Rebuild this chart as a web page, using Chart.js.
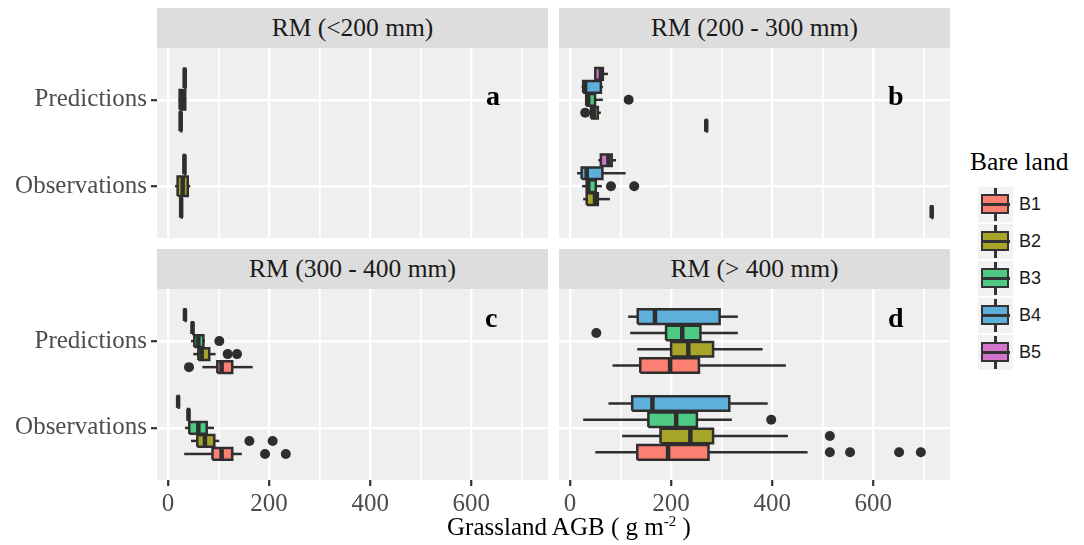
<!DOCTYPE html>
<html><head><meta charset="utf-8">
<script src="https://cdn.jsdelivr.net/npm/chart.js@4"></script>
<style>
body{margin:0;background:#fff;width:1084px;height:545px;position:relative;overflow:hidden;font-family:'Liberation Serif','Times New Roman',serif;}
canvas{position:absolute;}
.strip{position:absolute;background:#DEDDDD;color:#1A1A1A;font-size:25.5px;text-align:center;height:40px;line-height:40px;width:391px;}
.tag{position:absolute;font-weight:bold;font-size:28px;color:#000;}
.axtitle{position:absolute;font-size:25px;color:#000;white-space:nowrap;}
.legtitle{position:absolute;left:970px;top:147px;font-size:25.5px;color:#000;}
.key{position:absolute;left:978px;width:35px;height:35px;background:#F2F2F2;}
.key .wh{position:absolute;left:16px;width:2.5px;background:#333;}
.key .bx{position:absolute;left:3px;top:7px;width:24px;height:16px;border:2.5px solid #333;}
.key .md{position:absolute;left:3px;top:16px;width:29px;height:3px;background:#333;}
.klab{position:absolute;left:1019px;font-family:'Liberation Sans',Arial,sans-serif;font-size:18px;color:#1A1A1A;}
</style></head>
<body>
<canvas id="cA" width="548" height="190" style="left:0;top:48px"></canvas>
<canvas id="cB" width="391" height="190" style="left:559px;top:48px"></canvas>
<canvas id="cC" width="548" height="231" style="left:0;top:289px"></canvas>
<canvas id="cD" width="391" height="231" style="left:559px;top:289px"></canvas>
<div id="deco"></div>
<script>
// ---------- data ----------
const categories = ['Observations', 'Predictions'];
const groups = ['B1', 'B2', 'B3', 'B4', 'B5'];
const groupColors = ['#FB8072', '#A6A52A', '#4FCA84', '#5EAFDB', '#D375CB'];
const panelTitles = ['RM (<200 mm)', 'RM (200 - 300 mm)', 'RM (300 - 400 mm)', 'RM (> 400 mm)'];
const panelTags = ['a', 'b', 'c', 'd'];
const xTickLabels = [0, 200, 400, 600];
const xGridValues = [0, 100, 200, 300, 400, 500, 600, 700];

// groups present in each panel
const groupsA = ['B1', 'B2', 'B3'];
const groupsB = ['B1', 'B2', 'B3', 'B4', 'B5'];
const groupsC = ['B1', 'B2', 'B3', 'B4', 'B5'];
const groupsD = ['B1', 'B2', 'B3', 'B4'];

// box statistics: [category, group, lower whisker, Q1, median, Q3, upper whisker]
const statsA = [
  ['Observations', 'B1', 24.5, 25, 26, 27, 27.5],
  ['Observations', 'B2', 14, 19, 29, 39, 44],
  ['Observations', 'B3', 31, 31.5, 32.5, 33.5, 34],
  ['Predictions', 'B1', 23.5, 24, 25, 26, 26.5],
  ['Predictions', 'B2', 21, 23, 29, 34, 36],
  ['Predictions', 'B3', 31.5, 32, 33, 34, 34.5]
];
const statsB = [
  ['Observations', 'B1', 713.5, 714.5, 715.5, 716.5, 717.5],
  ['Observations', 'B2', 26, 33, 49.5, 55, 79],
  ['Observations', 'B3', 24, 33, 36, 51, 63],
  ['Observations', 'B4', 14, 23, 33, 64, 110],
  ['Observations', 'B5', 56, 61, 76, 82.5, 91],
  ['Predictions', 'B1', 268, 268.5, 269.5, 270.5, 271],
  ['Predictions', 'B2', 40, 41.5, 47, 55, 61],
  ['Predictions', 'B3', 30, 32, 36, 49.5, 65],
  ['Predictions', 'B4', 23, 26, 30, 61, 65],
  ['Predictions', 'B5', 48, 50, 61, 65, 75]
];
const statsC = [
  ['Observations', 'B1', 32, 88, 106, 127, 146],
  ['Observations', 'B2', 45.5, 58, 73, 91.5, 101.5],
  ['Observations', 'B3', 33.5, 42, 60, 76.5, 91],
  ['Observations', 'B4', 38.5, 39.5, 40.5, 41.5, 42.5],
  ['Observations', 'B5', 18, 19, 20, 21, 22],
  ['Predictions', 'B1', 68, 97.5, 106, 127, 167.5],
  ['Predictions', 'B2', 50, 60, 66.5, 81.5, 94],
  ['Predictions', 'B3', 45.5, 52, 60, 70, 73],
  ['Predictions', 'B4', 46.5, 47.5, 48.5, 49.5, 50.5],
  ['Predictions', 'B5', 31.5, 32.5, 33.5, 34.5, 35.5]
];
const statsD = [
  ['Observations', 'B1', 50, 133, 194, 274, 470],
  ['Observations', 'B2', 103, 179, 238, 283, 431],
  ['Observations', 'B3', 26, 155, 210, 251, 320],
  ['Observations', 'B4', 76, 123, 163, 315, 391],
  ['Predictions', 'B1', 84, 139, 198, 255, 427],
  ['Predictions', 'B2', 133, 200, 234, 283, 381],
  ['Predictions', 'B3', 119, 190, 222, 258, 332],
  ['Predictions', 'B4', 115, 134, 168, 296, 332]
];

// outliers: [category, group, value]
const outliersA = [];
const outliersB = [
  ['Observations', 'B3', 81], ['Observations', 'B3', 127],
  ['Predictions', 'B2', 30], ['Predictions', 'B3', 116]
];
const outliersC = [
  ['Observations', 'B1', 192], ['Observations', 'B1', 233],
  ['Observations', 'B2', 161], ['Observations', 'B2', 207],
  ['Predictions', 'B1', 41.5],
  ['Predictions', 'B2', 118], ['Predictions', 'B2', 136.5],
  ['Predictions', 'B3', 101.5]
];
const outliersD = [
  ['Observations', 'B1', 514], ['Observations', 'B1', 554], ['Observations', 'B1', 651], ['Observations', 'B1', 694],
  ['Observations', 'B2', 514],
  ['Observations', 'B3', 398],
  ['Predictions', 'B3', 52]
];

// ---------- drawing ----------
const DARK = '#2E2E2E';
const SERIF = "'Liberation Serif','Times New Roman',serif";

function buildDatasets(stats, outliers, present) {
  const n = present.length, slot = 0.75 / n, half = slot * 0.45;
  const yOf = (cat, g) => categories.indexOf(cat) + 1 - 0.375 + (present.indexOf(g) + 0.5) * slot;
  const ds = [];
  stats.forEach(([cat, g, lo, q1, med, q3, hi]) => {
    const y = yOf(cat, g), col = groupColors[groups.indexOf(g)];
    const line = (pts, w, order) => ({data: pts, borderColor: DARK, borderWidth: w, pointRadius: 0, fill: false, order, borderCapStyle: 'butt'});
    ds.push(line([{x: lo, y}, {x: q1, y}], 2.5, 4));
    ds.push(line([{x: q3, y}, {x: hi, y}], 2.5, 4));
    ds.push({
      data: [{x: q1, y: y - half}, {x: q3, y: y - half}, {x: q3, y: y + half}, {x: q1, y: y + half}, {x: q1, y: y - half}],
      fill: 'shape', backgroundColor: col, borderColor: DARK, borderWidth: 2.5, pointRadius: 0, order: 3,
      borderJoinStyle: 'miter'
    });
    ds.push(line([{x: med, y: y - half}, {x: med, y: y + half}], 4.5, 2));
  });
  ds.push({
    data: outliers.map(([cat, g, v]) => ({x: v, y: yOf(cat, g)})),
    showLine: false, pointRadius: 5, pointBackgroundColor: DARK, pointBorderColor: DARK, pointBorderWidth: 0, order: 1
  });
  return ds;
}

const bgPlugin = {
  id: 'panelBg',
  beforeDraw(chart) {
    const {ctx, chartArea: a} = chart;
    ctx.save();
    ctx.fillStyle = '#EFEFEF';
    ctx.fillRect(a.left, a.top, a.width, a.height);
    ctx.restore();
  }
};

function zeroPad(s) { s.paddingLeft = 0; s.paddingRight = 0; s.paddingTop = 0; s.paddingBottom = 0; }

function makeChart(id, stats, outliers, present, showY, showX) {
  new Chart(document.getElementById(id), {
    type: 'line',
    data: {datasets: buildDatasets(stats, outliers, present)},
    options: {
      responsive: false, animation: false, events: [],
      layout: {padding: 0, autoPadding: false},
      plugins: {legend: {display: false}, tooltip: {enabled: false}},
      scales: {
        x: {
          type: 'linear', min: -21.8, max: 751.7,
          afterBuildTicks: s => { s.ticks = xGridValues.map(v => ({value: v})); },
          afterFit: s => { s.height = showX ? 40 : 0; zeroPad(s); },
          border: {display: false},
          grid: {
            color: '#FFFFFF',
            lineWidth: c => (c.tick && xTickLabels.includes(c.tick.value)) ? 2.4 : 1.8,
            drawTicks: showX, tickLength: 6, tickWidth: 2.2,
            tickColor: c => (c.tick && xTickLabels.includes(c.tick.value)) ? '#333333' : 'rgba(0,0,0,0)'
          },
          ticks: {
            display: showX, autoSkip: false, maxRotation: 0, padding: 3, color: '#4D4D4D',
            font: {family: SERIF, size: 25},
            callback: v => xTickLabels.includes(v) ? String(v) : ''
          }
        },
        y: {
          type: 'linear', min: 0.4, max: 2.6,
          afterBuildTicks: s => { s.ticks = categories.map((c, i) => ({value: i + 1})); },
          afterFit: s => { s.width = showY ? 157 : 0; zeroPad(s); },
          border: {display: false},
          grid: {color: '#FFFFFF', lineWidth: 2.4, drawTicks: showY, tickLength: 6, tickWidth: 2.2, tickColor: '#333333'},
          ticks: {
            display: showY, padding: 4, color: '#4D4D4D',
            font: {family: SERIF, size: 25},
            callback: v => categories[v - 1]
          }
        }
      }
    },
    plugins: [bgPlugin]
  });
}

makeChart('cA', statsA, outliersA, groupsA, true, false);
makeChart('cB', statsB, outliersB, groupsB, false, false);
makeChart('cC', statsC, outliersC, groupsC, true, true);
makeChart('cD', statsD, outliersD, groupsD, false, true);

// ---------- strips, tags, titles, legend ----------
const deco = document.getElementById('deco');
const panelPos = [[157, 8], [559, 8], [157, 249], [559, 249]];
let html = '';
panelTitles.forEach((t, i) => {
  const [l, st] = panelPos[i];
  html += `<div class="strip" style="left:${l}px;top:${st}px">${t.replace('<', '&lt;')}</div>`;
});
const tagPos = [[486, 80], [888, 80], [485, 302], [888, 302]];
panelTags.forEach((t, i) => {
  html += `<div class="tag" style="left:${tagPos[i][0]}px;top:${tagPos[i][1]}px">${t}</div>`;
});
html += `<div class="axtitle" style="left:447px;top:513px">Grassland AGB ( g m<sup style="font-size:15px">-2</sup> )</div>`;
html += `<div class="legtitle">Bare land</div>`;
groups.forEach((g, i) => {
  const top = 187 + i * 37;
  html += `<div class="key" style="top:${top}px">
    <div class="wh" style="top:1px;height:7px"></div>
    <div class="wh" style="top:26px;height:8px"></div>
    <div class="bx" style="background:${groupColors[i]}"></div>
    <div class="md"></div></div>`;
  html += `<div class="klab" style="top:${top + 7}px">${g}</div>`;
});
deco.innerHTML = html;
</script>
</body></html>
